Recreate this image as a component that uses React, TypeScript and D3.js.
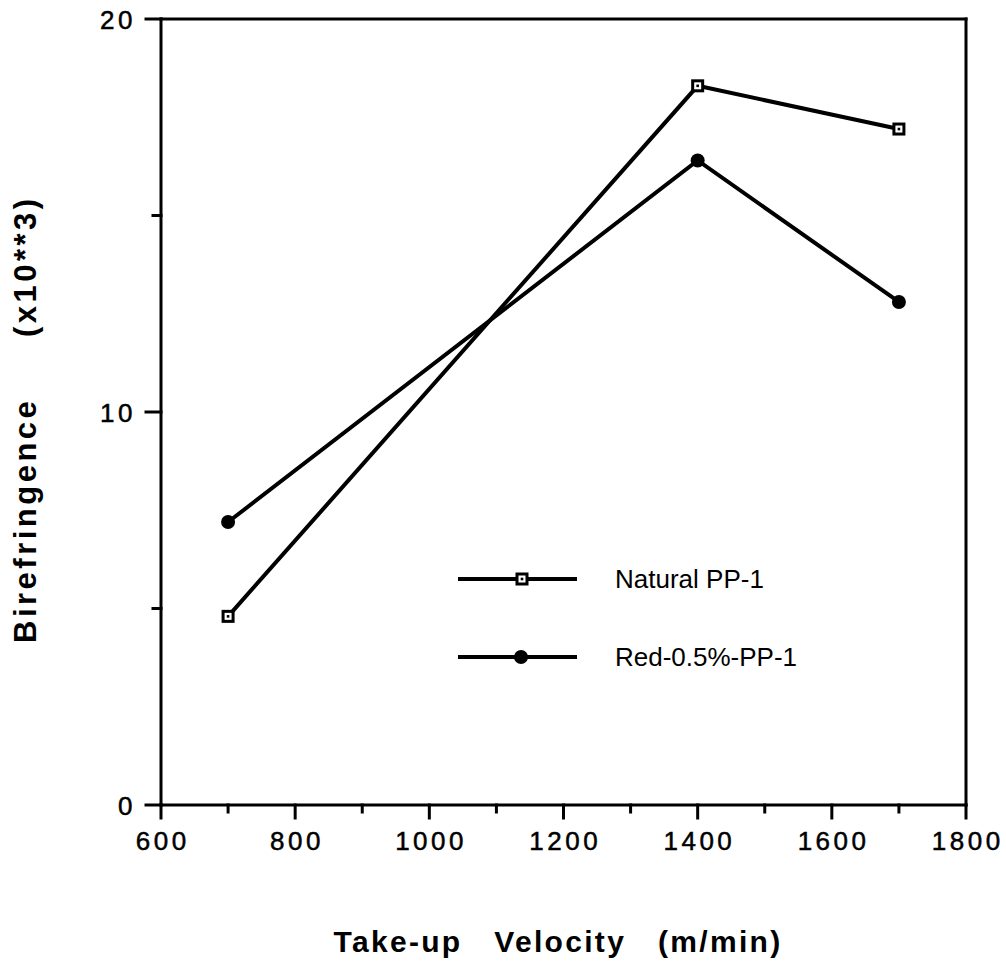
import React from "react";
import * as d3 from "d3";

const velocities = [700, 1400, 1700];
const naturalPP = [4.8, 18.3, 17.2];
const redPP = [7.2, 16.4, 12.8];
const xMajorTicks = [600, 800, 1000, 1200, 1400, 1600, 1800];
const xMinorTicks = [700, 900, 1100, 1300, 1500, 1700];
const yMajorTicks = [0, 10, 20];
const yMinorTicks = [5, 15];
const seriesNames = ["Natural PP-1", "Red-0.5%-PP-1"];

const W = 1006;
const H = 968;
const FONT = "'Liberation Sans', Arial, Helvetica, sans-serif";

export default function App() {
  const x = d3.scaleLinear().domain([600, 1800]).range([161, 966]);
  const y = d3.scaleLinear().domain([0, 20]).range([805, 19]);
  const line = d3
    .line<[number, number]>()
    .x((d) => x(d[0]))
    .y((d) => y(d[1]));
  const natPts = velocities.map((v, i) => [v, naturalPP[i]] as [number, number]);
  const redPts = velocities.map((v, i) => [v, redPP[i]] as [number, number]);

  const Square = ({ cx, cy }: { cx: number; cy: number }) => (
    <g>
      <rect x={cx - 6.5} y={cy - 6.5} width={13} height={13} fill="#000" />
      <rect x={cx - 3.5} y={cy - 3.5} width={7} height={7} fill="#fff" />
      <rect x={cx - 1.3} y={cy - 1.3} width={2.6} height={2.6} fill="#000" />
    </g>
  );

  const x0 = x(600), x1 = x(1800), yb = y(0), yt = y(20);
  const legY = [579, 657];

  return (
    <svg
      width={W}
      height={H}
      style={{ position: "absolute", left: 0, top: 0, background: "#fff" }}
    >
      <rect x={0} y={0} width={W} height={H} fill="#fff" />
      {/* frame */}
      <g stroke="#000" strokeWidth={3} fill="none" strokeLinecap="square">
        <line x1={x0} y1={yt} x2={x1} y2={yt} />
        <line x1={x0} y1={yb} x2={x1} y2={yb} />
        <line x1={x0} y1={yt} x2={x0} y2={yb} />
        <line x1={x1} y1={yt} x2={x1} y2={yb} />
        {xMajorTicks.map((t) => (
          <line key={"xM" + t} x1={x(t)} x2={x(t)} y1={yb} y2={yb + 13} />
        ))}
        {xMinorTicks.map((t) => (
          <line key={"xm" + t} x1={x(t)} x2={x(t)} y1={yb} y2={yb + 7} />
        ))}
        {yMajorTicks.map((t) => (
          <line key={"yM" + t} x1={x0 - 15} x2={x0} y1={y(t)} y2={y(t)} />
        ))}
        {yMinorTicks.map((t) => (
          <line key={"ym" + t} x1={x0 - 8} x2={x0} y1={y(t)} y2={y(t)} />
        ))}
      </g>
      {/* tick labels */}
      <g fontFamily={FONT} fontSize={26} fill="#000" stroke="#000" strokeWidth={0.5} letterSpacing={3.5}>
        {xMajorTicks.map((t) => (
          <text key={"xl" + t} x={x(t) + 1.75} y={850} textAnchor="middle">
            {t}
          </text>
        ))}
        {yMajorTicks.map((t) => (
          <text key={"yl" + t} x={136} y={y(t) + 9.5} textAnchor="end">
            {t}
          </text>
        ))}
      </g>
      {/* series lines */}
      <path d={line(natPts) || ""} stroke="#000" strokeWidth={4} fill="none" />
      <path d={line(redPts) || ""} stroke="#000" strokeWidth={4} fill="none" />
      {natPts.map((p, i) => (
        <Square key={"n" + i} cx={x(p[0])} cy={y(p[1])} />
      ))}
      {redPts.map((p, i) => (
        <circle key={"r" + i} cx={x(p[0])} cy={y(p[1])} r={7} fill="#000" />
      ))}
      {/* legend */}
      <g>
        <line x1={458} x2={577} y1={legY[0]} y2={legY[0]} stroke="#000" strokeWidth={4} />
        <Square cx={522} cy={legY[0]} />
        <line x1={458} x2={577} y1={legY[1]} y2={legY[1]} stroke="#000" strokeWidth={4} />
        <circle cx={521} cy={legY[1]} r={7} fill="#000" />
        <g fontFamily={FONT} fontSize={26} fill="#000">
          <text x={615} y={legY[0] + 9}>{seriesNames[0]}</text>
          <text x={615} y={legY[1] + 9}>{seriesNames[1]}</text>
        </g>
      </g>
      {/* axis titles */}
      <text
        x={558}
        y={952}
        textAnchor="middle"
        fontFamily={FONT}
        fontSize={30}
        fontWeight="bold"
        letterSpacing={2.3}
        style={{ whiteSpace: "pre" }}
      >
        {"Take-up   Velocity   (m/min)"}
      </text>
      <text
        transform={`translate(36,643) rotate(-90)`}
        textAnchor="start"
        fontFamily={FONT}
        fontSize={31}
        fontWeight="bold"
        letterSpacing={3.5}
        style={{ whiteSpace: "pre" }}
      >
        {"Birefringence     (x10**3)"}
      </text>
    </svg>
  );
}
